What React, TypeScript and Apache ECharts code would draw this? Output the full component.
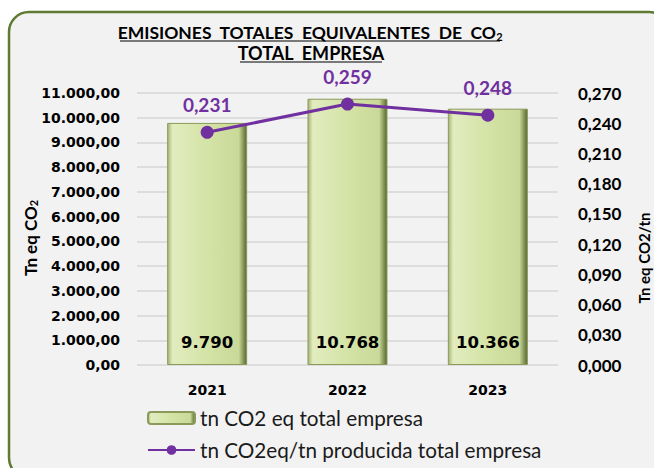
import React, { useEffect, useRef } from "react";
import * as echarts from "echarts";

const years = ["2021", "2022", "2023"];
const emissions = [9790, 10768, 10366];
const intensity = [0.231, 0.259, 0.248];
const barName = "tn CO2 eq total empresa";
const lineName = "tn CO2eq/tn producida total empresa";
const titleLine1 = "EMISIONES  TOTALES  EQUIVALENTES  DE  CO";
const titleLine2 = "TOTAL  EMPRESA";

function thousands(n: number): string {
  const s = Math.round(n).toString();
  return s.replace(/\B(?=(\d{3})+(?!\d))/g, ".");
}
function fmtLeft(v: number): string {
  return thousands(v) + ",00";
}
function fmtDec(v: number): string {
  return v.toFixed(3).replace(".", ",");
}

const PURPLE = "#7030a0";
const BORDER = "#5f7a32";

export default function App() {
  const ref = useRef<HTMLDivElement>(null);
  useEffect(() => {
    if (!ref.current) return;
    const chart = echarts.init(ref.current, null, { renderer: "svg" });
    const barGradient = new echarts.graphic.LinearGradient(0, 0, 1, 0, [
      { offset: 0, color: "#a4b374" },
      { offset: 0.06, color: "#e2ecbf" },
      { offset: 0.5, color: "#d4e3a6" },
      { offset: 0.9, color: "#c9d998" },
      { offset: 1, color: "#56662f" },
    ]);
    chart.setOption({
      animation: false,
      backgroundColor: "#ffffff",
      graphic: [
        {
          type: "rect",
          shape: { x: 9, y: 12, width: 660, height: 466, r: 20 },
          style: { fill: "#f2f2f2", stroke: BORDER, lineWidth: 2.5 },
          z: -10,
        },
        {
          type: "text",
          x: 310,
          y: 32,
          style: {
            text: "{m|" + titleLine1 + "}{s|2}",
            align: "center",
            verticalAlign: "middle",
            rich: {
              m: { fontFamily: "Lato", fontWeight: "bold", fontSize: 17.5, fill: "#000" },
              s: { fontFamily: "Lato", fontWeight: "bold", fontSize: 11, fill: "#000", padding: [8, 0, 0, 0] },
            },
          },
        },
        {
          type: "line",
          shape: { x1: 120, y1: 41, x2: 500, y2: 41 },
          style: { stroke: "#000", lineWidth: 1.2 },
        },
        {
          type: "text",
          x: 311,
          y: 53,
          style: {
            text: titleLine2,
            align: "center",
            verticalAlign: "middle",
            fontFamily: "Lato",
            fontWeight: "bold",
            fontSize: 18,
            fill: "#000",
          },
        },
        {
          type: "line",
          shape: { x1: 240, y1: 62, x2: 382, y2: 62 },
          style: { stroke: "#000", lineWidth: 1.2 },
        },
        {
          type: "text",
          x: 30,
          y: 238,
          rotation: Math.PI / 2,
          style: {
            text: "{m|Tn eq CO}{s|2}",
            align: "center",
            verticalAlign: "middle",
            rich: {
              m: { fontFamily: "Lato", fontWeight: "bold", fontSize: 17, fill: "#000" },
              s: { fontFamily: "Lato", fontWeight: "bold", fontSize: 11, fill: "#000", padding: [7, 0, 0, 0] },
            },
          },
        },
        {
          type: "text",
          x: 644,
          y: 258,
          rotation: Math.PI / 2,
          style: {
            text: "Tn eq CO2/tn",
            align: "center",
            verticalAlign: "middle",
            fontFamily: "Lato",
            fontWeight: "bold",
            fontSize: 15,
            fill: "#000",
          },
        },
      ],
      grid: { left: 137, right: 96, top: 93, bottom: 103 },
      legend: {
        orient: "vertical",
        left: 147,
        top: 407,
        padding: 0,
        itemWidth: 47,
        itemHeight: 12,
        itemGap: 10,
        textStyle: { fontFamily: "Lato", fontSize: 20.7, color: "#1a1a1a", lineHeight: 22 },
        data: [barName, lineName],
      },
      xAxis: {
        type: "category",
        data: years,
        axisLine: { show: false },
        axisTick: { show: false },
        axisLabel: {
          margin: 18,
          fontFamily: "DejaVu Sans",
          fontWeight: "bold",
          fontSize: 14,
          color: "#000",
        },
      },
      yAxis: [
        {
          type: "value",
          min: 0,
          max: 11000,
          interval: 1000,
          axisLine: { show: false },
          axisTick: { show: false },
          splitLine: { lineStyle: { color: "#d6d6d6", width: 1.5 } },
          axisLabel: {
            margin: 17,
            formatter: (v: number) => fmtLeft(v),
            fontFamily: "DejaVu Sans",
            fontWeight: "bold",
            fontSize: 14,
            color: "#000",
          },
        },
        {
          type: "value",
          min: 0,
          max: 0.27,
          interval: 0.03,
          axisLine: { show: false },
          axisTick: { show: false },
          splitLine: { show: false },
          axisLabel: {
            margin: 20,
            formatter: (v: number) => fmtDec(v),
            fontFamily: "Lato",
            fontWeight: "bold",
            fontSize: 17,
            color: "#000",
          },
        },
      ],
      series: [
        {
          name: barName,
          type: "bar",
          data: emissions,
          barWidth: "57%",
          itemStyle: { color: barGradient, borderColor: "#8a9a5a", borderWidth: 1 },
          label: {
            show: true,
            position: "insideBottom",
            distance: 14,
            formatter: (p: any) => thousands(p.value),
            fontFamily: "DejaVu Sans",
            fontWeight: "bold",
            fontSize: 16.5,
            color: "#000",
          },
        },
        {
          name: lineName,
          type: "line",
          yAxisIndex: 1,
          data: intensity,
          symbol: "circle",
          symbolSize: 13,
          itemStyle: { color: PURPLE },
          lineStyle: { color: PURPLE, width: 3 },
          label: {
            show: true,
            position: "top",
            distance: 12,
            formatter: (p: any) => fmtDec(p.value),
            fontFamily: "Lato",
            fontWeight: "bold",
            fontSize: 19,
            color: PURPLE,
          },
        },
      ],
    });
    return () => chart.dispose();
  }, []);
  return (
    <div
      ref={ref}
      style={{ position: "fixed", left: 0, top: 0, width: 654, height: 468 }}
    />
  );
}
